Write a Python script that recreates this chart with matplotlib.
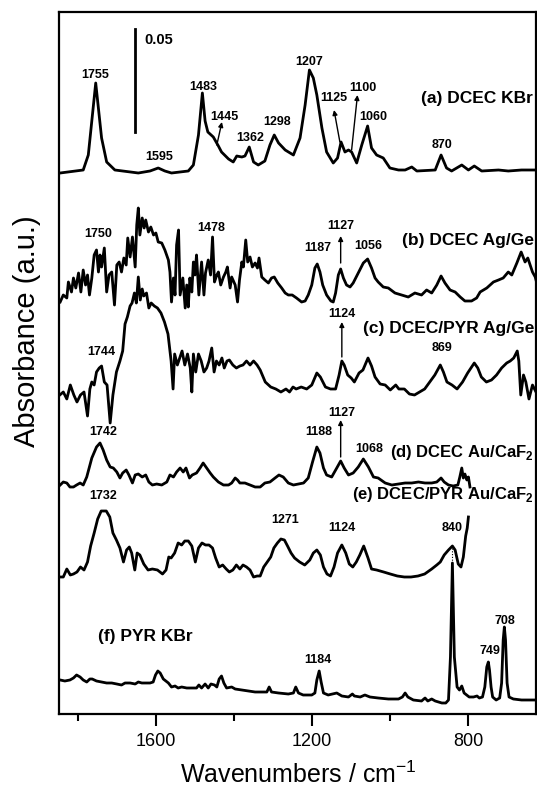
import matplotlib
matplotlib.use("Agg")
import matplotlib.pyplot as plt

plt.rcParams['font.family'] = ['Liberation Sans', 'DejaVu Sans']
plt.rcParams['mathtext.fontset'] = 'custom'
plt.rcParams['mathtext.rm'] = 'Liberation Sans'
plt.rcParams['mathtext.bf'] = 'Liberation Sans:bold'

# ---------------- data (wavenumber cm-1, absorbance a.u. above own baseline) ----------------
series_names = ["(a) DCEC KBr", "(b) DCEC Ag/Ge", "(c) DCEC/PYR Ag/Ge",
                "(d) DCEC Au/CaF$_\\mathbf{2}$", "(e) DCEC/PYR Au/CaF$_\\mathbf{2}$", "(f) PYR KBr"]
offsets = [541, 414, 319, 229, 139, 14]

wn_a = [1845, 1786, 1773, 1754, 1739, 1726, 1705, 1645, 1615, 1594, 1577, 1560, 1517, 1504, 1491, 1481,
        1474, 1467, 1453, 1440, 1432, 1414, 1402, 1393, 1380, 1372, 1361, 1350, 1338, 1321, 1308, 1297,
        1286, 1269, 1248, 1231, 1218, 1207, 1197, 1188, 1175, 1163, 1146, 1135, 1126, 1116, 1107, 1099,
        1086, 1073, 1058, 1048, 1035, 1018, 1001, 979, 962, 945, 932, 885, 870, 856, 843, 817, 800, 785,
        766, 723, 698, 664, 627]
abs_a = [0, 3, 18, 90, 35, 11, 3, 0, 2, 5, 2, 0, 2, 8, 38, 80,
         52, 41, 36, 27, 21, 14, 11, 17, 16, 17, 26, 11, 8, 12, 28, 38,
         30, 23, 18, 35, 68, 103, 95, 78, 45, 21, 10, 15, 31, 21, 23, 21,
         10, 28, 47, 25, 18, 15, 5, 3, 3, 6, 2, 3, 18, 5, 2, 8, 3, 7,
         2, 3, 2, 3, 3]

wn_b = [1845, 1837, 1828, 1824, 1816, 1811, 1805, 1798, 1792, 1786, 1780, 1775, 1770, 1764, 1758, 1752,
        1747, 1743, 1739, 1732, 1726, 1720, 1713, 1706, 1700, 1694, 1688, 1682, 1676, 1672, 1666, 1660,
        1653, 1649, 1645, 1641, 1635, 1630, 1626, 1619, 1613, 1606, 1600, 1594, 1585, 1577, 1568, 1564,
        1560, 1555, 1551, 1547, 1542, 1538, 1531, 1525, 1521, 1517, 1513, 1508, 1504, 1500, 1496, 1490,
        1483, 1477, 1473, 1466, 1460, 1455, 1450, 1444, 1440, 1434, 1427, 1421, 1417, 1410, 1406, 1397,
        1391, 1386, 1380, 1376, 1370, 1365, 1359, 1353, 1346, 1340, 1336, 1329, 1321, 1312, 1304, 1297,
        1288, 1278, 1269, 1261, 1251, 1240, 1227, 1218, 1210, 1201, 1193, 1187, 1180, 1173, 1163, 1152,
        1146, 1140, 1133, 1127, 1120, 1112, 1103, 1095, 1082, 1069, 1058, 1048, 1039, 1031, 1018, 1005,
        988, 971, 954, 937, 920, 907, 894, 881, 870, 860, 847, 834, 821, 809, 792, 779,
        770, 753, 736, 723, 711, 698, 689, 676, 665, 655, 648, 642, 636, 629, 627]
abs_b = [-2, 5, 2, 18, 8, 22, 12, 27, 8, 30, 15, 25, 5, 22, 45, 50,
         28, 45, 33, 52, 8, 25, 28, -5, 35, 38, 28, 42, 35, 62, 43, 63,
         33, 75, 92, 65, 82, 72, 80, 68, 73, 65, 67, 58, 57, 50, 40, 28,
         -2, 22, 5, 55, 70, 5, 22, -8, 15, -7, 22, 8, 38, 25, 45, 5,
         38, 5, 27, 40, 25, 63, 18, 25, 28, 15, 23, 28, 33, 12, 23, 15,
         -2, 20, 38, 33, 60, 38, 43, 33, 37, 32, 42, 23, 20, 17, 22, 23,
         17, 12, 7, 5, 5, 2, -2, -1, 5, 15, 32, 36, 28, 15, 5, -1,
         -2, 7, 25, 31, 22, 15, 13, 17, 27, 37, 41, 32, 22, 18, 13, 12,
         7, 5, 3, 7, 5, 10, 7, 15, 24, 17, 10, 8, 3, -1, -1, 2,
         8, 12, 18, 20, 22, 28, 25, 37, 48, 38, 42, 35, 28, 23, 20]

wn_c = [1846, 1837, 1828, 1819, 1810, 1802, 1793, 1784, 1775, 1769, 1764, 1758, 1752, 1745, 1739, 1732,
        1725, 1717, 1710, 1701, 1692, 1685, 1679, 1673, 1666, 1661, 1655, 1650, 1645, 1640, 1635, 1631,
        1624, 1618, 1612, 1604, 1596, 1587, 1578, 1569, 1561, 1556, 1552, 1545, 1539, 1533, 1526, 1519,
        1512, 1508, 1504, 1498, 1491, 1484, 1477, 1470, 1464, 1457, 1451, 1445, 1438, 1431, 1425, 1418,
        1412, 1403, 1394, 1385, 1377, 1368, 1359, 1350, 1341, 1333, 1320, 1306, 1293, 1280, 1267, 1258,
        1249, 1241, 1228, 1214, 1201, 1188, 1179, 1166, 1153, 1140, 1131, 1124, 1118, 1109, 1100, 1092,
        1080, 1070, 1057, 1048, 1039, 1026, 1013, 1000, 986, 978, 964, 951, 938, 925, 912, 899,
        886, 872, 864, 855, 842, 829, 815, 802, 785, 776, 767, 754, 741, 728, 715, 702,
        693, 684, 675, 671, 666, 659, 653, 645, 636, 627]
abs_c = [0, 3, -4, 10, 0, -7, 0, 3, -21, 6, 13, 10, 23, 27, 29, 13,
         10, -28, 0, 23, 34, 44, 71, 78, 89, 92, 102, 92, 118, 95, 106, 99,
         102, 87, 92, 89, 87, 82, 73, 61, 34, 6, 41, 30, 37, 44, 30, 41,
         27, 3, 41, 23, 41, 34, 23, 27, 34, 47, 23, 34, 30, 37, 27, 34,
         35, 30, 27, 29, 30, 34, 30, 34, 30, 25, 13, 8, 6, 3, 6, 3,
         8, 6, 8, 6, 10, 22, 18, 8, 6, 6, 20, 34, 30, 20, 17, 13,
         22, 25, 37, 29, 18, 11, 10, 5, 10, 6, 6, 1, 0, 3, 6, 13,
         20, 30, 23, 13, 10, 6, 13, 22, 32, 27, 18, 13, 15, 20, 27, 32,
         34, 37, 44, 34, 0, 20, 13, -4, 10, 3]

wn_d = [1845, 1837, 1828, 1820, 1811, 1803, 1794, 1786, 1777, 1764, 1752, 1743, 1735, 1726, 1717, 1709,
        1700, 1692, 1685, 1676, 1669, 1660, 1653, 1645, 1635, 1626, 1618, 1609, 1598, 1585, 1572, 1564,
        1555, 1547, 1538, 1530, 1523, 1514, 1507, 1496, 1487, 1479, 1470, 1461, 1453, 1440, 1427, 1414,
        1406, 1397, 1391, 1385, 1372, 1359, 1346, 1333, 1321, 1308, 1295, 1285, 1274, 1261, 1248, 1235,
        1222, 1210, 1199, 1188, 1180, 1171, 1163, 1150, 1137, 1127, 1118, 1107, 1095, 1082, 1069, 1056,
        1043, 1031, 1013, 996, 979, 962, 945, 928, 911, 894, 881, 870, 862, 851, 839, 827,
        822, 817, 813, 809, 804, 800, 796]
abs_d = [0, 3, 2, -2, -2, 0, 2, 0, 8, 27, 38, 42, 35, 25, 18, 17,
         13, 7, 12, 15, 10, 2, 10, 11, 8, 10, 3, 0, 1, 0, 3, 10,
         8, 13, 17, 13, 17, 7, 10, 12, 17, 22, 17, 12, 8, 3, 0, 0,
         2, 7, 5, 2, 2, 0, -2, -2, 2, 3, 7, 10, 8, 2, 0, 1,
         2, 7, 23, 38, 32, 17, 10, 8, 17, 24, 17, 10, 12, 18, 26, 18,
         8, 7, 2, 0, 1, 2, 2, 3, 2, 2, 3, 7, 3, 0, -1, 0,
         8, 17, 7, 11, 5, 8, -2]

wn_e = [1846, 1837, 1828, 1819, 1811, 1802, 1793, 1784, 1775, 1767, 1758, 1749, 1740, 1727, 1718, 1710,
        1701, 1692, 1683, 1675, 1668, 1662, 1654, 1648, 1641, 1631, 1620, 1609, 1596, 1583, 1574, 1567,
        1561, 1552, 1543, 1534, 1526, 1517, 1508, 1499, 1491, 1482, 1473, 1464, 1455, 1447, 1438, 1429,
        1420, 1412, 1403, 1394, 1385, 1377, 1368, 1359, 1350, 1341, 1333, 1324, 1315, 1306, 1298, 1289,
        1280, 1271, 1263, 1254, 1245, 1232, 1219, 1206, 1197, 1188, 1179, 1171, 1162, 1153, 1144, 1135,
        1124, 1114, 1105, 1096, 1087, 1078, 1068, 1057, 1048, 1035, 1017, 1000, 982, 964, 947, 929,
        912, 894, 881, 872, 862, 851, 841, 834, 826, 819, 813, 807, 803, 800]
abs_e = [-2, -2, 6, 0, 1, 3, 8, 5, 13, 29, 42, 56, 64, 64, 58, 42,
         35, 27, 13, 25, 28, 22, 5, 22, 20, 11, 5, 6, 5, 1, 5, 18,
         17, 22, 32, 30, 34, 34, 29, 13, 27, 32, 30, 30, 27, 17, 8, 10,
         6, 3, 5, 10, 6, 10, 8, 5, -2, -1, -1, 8, 13, 18, 27, 32,
         36, 35, 29, 22, 17, 13, 10, 15, 22, 25, 20, 8, 1, -1, 8, 22,
         30, 22, 11, 8, 13, 20, 29, 17, 6, 5, 3, 1, -1, -2, -2, -1,
         1, 6, 10, 13, 20, 25, 29, 25, 11, 8, 18, 39, 47, 58]

wn_f = [1845, 1833, 1820, 1811, 1803, 1794, 1786, 1777, 1769, 1763, 1752, 1739, 1726, 1713, 1700, 1688,
        1679, 1666, 1653, 1645, 1636, 1628, 1615, 1607, 1601, 1595, 1589, 1581, 1568, 1560, 1551, 1543,
        1534, 1521, 1508, 1496, 1490, 1483, 1474, 1466, 1459, 1450, 1444, 1438, 1432, 1426, 1419, 1406,
        1397, 1380, 1363, 1346, 1329, 1316, 1310, 1304, 1286, 1261, 1248, 1242, 1235, 1223, 1201, 1193,
        1188, 1182, 1177, 1171, 1159, 1137, 1124, 1107, 1097, 1092, 1077, 1065, 1052, 1031, 1005, 979,
        969, 962, 955, 941, 920, 911, 904, 894, 885, 868, 858, 851, 846, 841, 836, 829,
        823, 817, 811, 798, 787, 778, 772, 764, 758, 753, 749, 746, 742, 738, 729, 720,
        715, 711, 708, 705, 701, 696, 685, 664, 647, 627]
abs_f = [20, 19, 20, 22, 25, 23, 20, 18, 21, 21, 19, 18, 17, 17, 16, 15,
         17, 17, 16, 18, 17, 17, 17, 18, 25, 29, 27, 21, 17, 13, 14, 12,
         13, 12, 12, 12, 15, 12, 16, 12, 16, 15, 13, 21, 24, 17, 12, 13,
         11, 10, 9, 8, 8, 8, 13, 8, 7, 6, 7, 13, 7, 5, 5, 7,
         20, 29, 18, 7, 5, 7, 4, 3, 6, 4, 3, 5, 3, 2, 1, 1,
         3, 7, 3, 0, -1, 2, -1, 1, -1, -3, -3, 0, 43, 137, 43, 13,
         10, 14, 7, 3, 3, 4, 2, 3, 13, 33, 38, 30, 13, 3, 0, 2,
         17, 60, 73, 60, 17, 3, 1, 0, 0, 0]

wavenumbers = [wn_a, wn_b, wn_c, wn_d, wn_e, wn_f]
absorbances = [abs_a, abs_b, abs_c, abs_d, abs_e, abs_f]

major_ticks = [1600, 1200, 800]
minor_ticks = [1800, 1400, 1000]

# ---------------- figure ----------------
W, H = 537, 789
fig = plt.figure(figsize=(W / 100, H / 100), dpi=100)
ax = fig.add_axes([59 / W, (H - 714) / H, (536 - 59) / W, (714 - 12) / H])

for wn, ab, off in zip(wavenumbers, absorbances, offsets):
    ax.plot(wn, [off + v for v in ab], color='black', lw=2.0, solid_joinstyle='round')

# dotted link between (f) 840 peak and (e) 840 band
ax.plot([841, 841], [offsets[5] + max(abs_f), offsets[4] + 29], color='black', lw=0.8, ls=(0, (1, 1.5)))

ax.set_xlim(1848, 627)
ax.set_ylim(0, 702)
ax.set_yticks([])
ax.set_xticks(major_ticks)
ax.set_xticklabels([str(t) for t in major_ticks])
ax.set_xticks(minor_ticks, minor=True)
ax.tick_params(axis='x', which='major', direction='out', length=8.5, width=1.5, labelsize=13, pad=5)
ax.tick_params(axis='x', which='minor', direction='out', length=5, width=1.5)
for s in ax.spines.values():
    s.set_linewidth(1.6)

fig.text(298 / W, 6 / H, "Wavenumbers / cm$^{-1}$", ha='center', va='baseline', fontsize=18)
fig.text(27 / W, 1 - 331 / H, "Absorbance (a.u.)", ha='center', va='center', rotation=90, fontsize=21)

# scale bar
ax.plot([1653, 1653], [582, 685], color='black', lw=2.0)
ax.text(1630, 674, "0.05", fontsize=10.5, fontweight='bold', ha='left', va='center')

pk = dict(fontsize=9, fontweight='bold', ha='center', va='center')
peak_labels = [
    ("1755", 1756, 639), ("1595", 1592, 557), ("1483", 1479, 627), ("1445", 1425, 597),
    ("1362", 1359, 576), ("1298", 1290, 592), ("1207", 1208, 652), ("1125", 1144, 616),
    ("1100", 1070, 626), ("1060", 1044, 597), ("870", 868, 569),
    ("1750", 1748, 480), ("1478", 1459, 486), ("1127", 1126, 488), ("1187", 1185, 466),
    ("1056", 1057, 468),
    ("1124", 1124, 400), ("1744", 1739, 362), ("869", 868, 366),
    ("1742", 1735, 282), ("1127", 1124, 301), ("1188", 1182, 282), ("1068", 1054, 265),
    ("1732", 1735, 218), ("1271", 1269, 194), ("1124", 1124, 186), ("840", 842, 186),
    ("1184", 1185, 54), ("749", 745, 63), ("708", 706, 93),
]
for t, x, y in peak_labels:
    ax.text(x, y, t, **pk)

arr = dict(arrowstyle='-|>', color='black', lw=1.0, mutation_scale=7, shrinkA=0, shrinkB=0)
arrows = [((1444, 569), (1431, 592)), ((1129, 572), (1144, 604)), ((1099, 564), (1084, 619)),
          ((1127, 451), (1127, 478)), ((1124, 357), (1124, 392)), ((1127, 257), (1127, 294))]
for (x0, y0), (x1, y1) in arrows:
    ax.annotate("", xy=(x1, y1), xytext=(x0, y0), arrowprops=arr)

lab = dict(fontweight='bold', va='center', ha='right')
ax.text(635, 616, series_names[0], fontsize=12.5, **lab)
ax.text(632, 474, series_names[1], fontsize=12.5, **lab)
ax.text(632, 386, series_names[2], fontsize=12.5, **lab)
ax.text(632, 262, series_names[3], fontsize=12, **lab)
ax.text(632, 220, series_names[4], fontsize=12, **lab)
ax.text(1628, 77, series_names[5], fontsize=12.5, fontweight='bold', va='center', ha='center')

fig.savefig("out.png", dpi=100)
